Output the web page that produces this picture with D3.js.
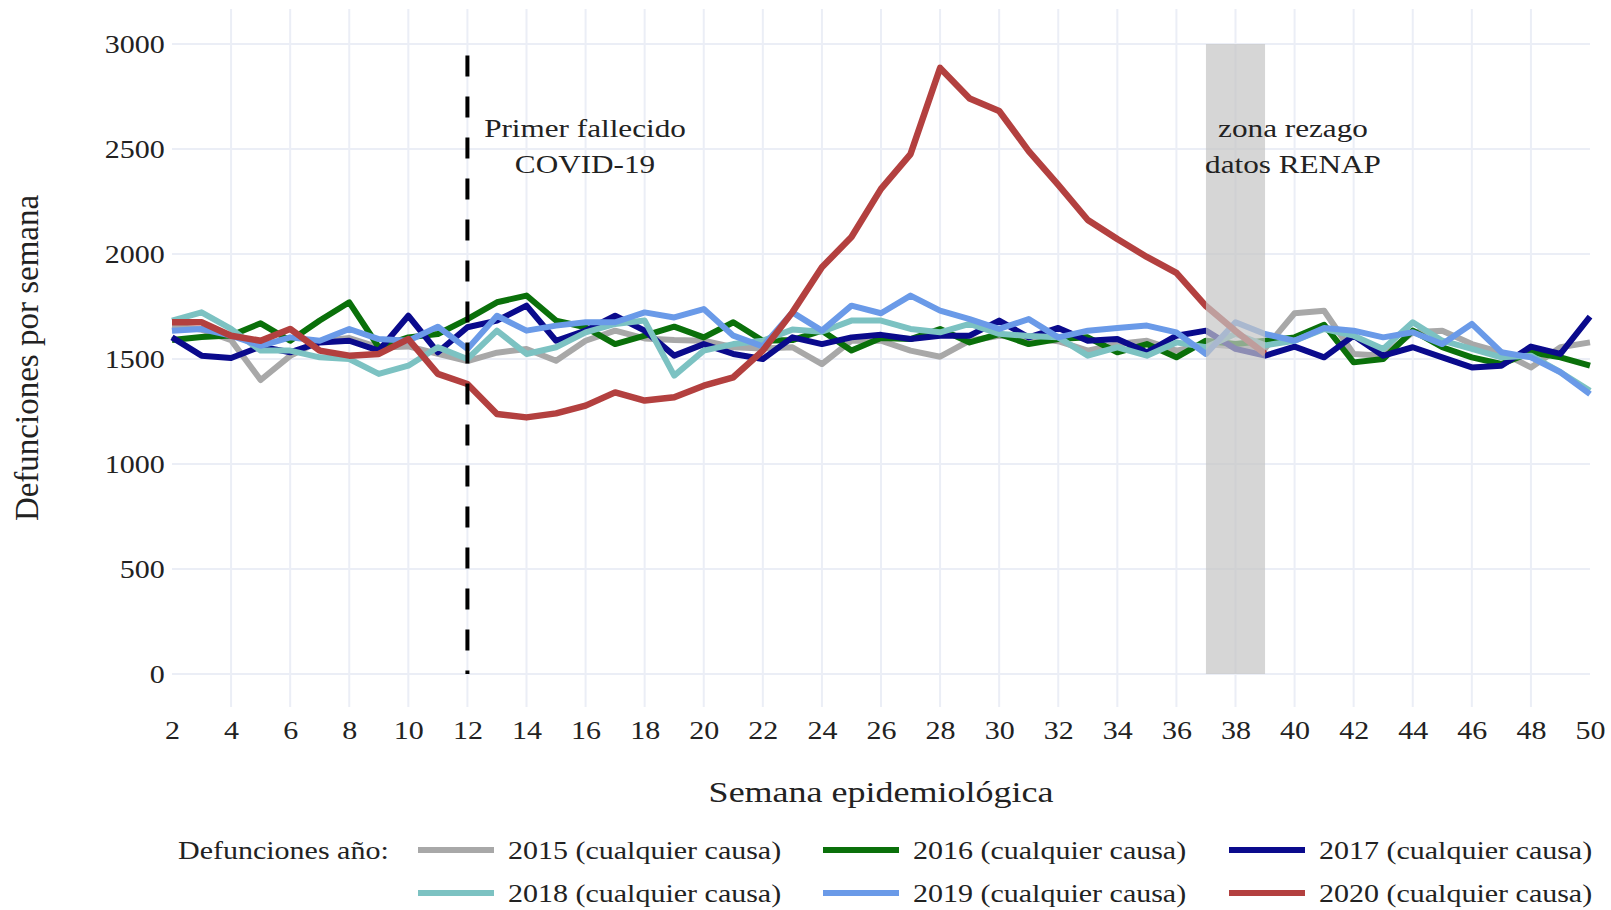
<!DOCTYPE html>
<html>
<head>
<meta charset="utf-8">
<script src="https://cdn.jsdelivr.net/npm/d3@7"></script>
<style>
  body { margin: 0; background: #fff; }
  text { font-family: "Liberation Serif", "Times New Roman", serif; fill: #222; }
</style>
</head>
<body>
<svg width="1611" height="910"></svg>
<script>
// semanas epidemiológicas
const weeks = [2,3,4,5,6,7,8,9,10,11,12,13,14,15,16,17,18,19,20,21,22,23,24,25,26,
  27,28,29,30,31,32,33,34,35,36,37,38,39,40,41,42,43,44,45,46,47,48,49,50];
const xTicks = [2,4,6,8,10,12,14,16,18,20,22,24,26,28,30,32,34,36,38,40,42,44,46,48,50];
const yTicks = [0,500,1000,1500,2000,2500,3000];

const d2015 = [1655,1640,1590,1400,1515,1585,1600,1555,1560,1525,1490,1530,1548,1492,1587,1635,1598,1590,1587,1556,1550,1556,1476,1587,1587,
  1540,1511,1587,1611,1600,1585,1540,1571,1587,1540,1571,1560,1550,1718,1730,1524,1516,1627,1635,1571,1532,1460,1556,1579];
const d2016 = [1590,1605,1612,1670,1587,1683,1770,1556,1603,1619,1690,1770,1802,1683,1651,1571,1611,1654,1603,1675,1587,1590,1635,1540,1600,
  1595,1643,1579,1619,1571,1595,1603,1532,1571,1508,1587,1571,1587,1603,1663,1484,1500,1635,1556,1508,1476,1532,1508,1468];
const d2017 = [1603,1516,1505,1559,1532,1579,1587,1540,1706,1532,1651,1683,1754,1587,1635,1706,1635,1516,1571,1524,1500,1603,1571,1603,1615,
  1595,1611,1611,1683,1603,1648,1587,1595,1532,1611,1635,1548,1516,1559,1508,1611,1516,1556,1508,1460,1468,1559,1524,1702];
const d2018 = [1683,1722,1643,1540,1540,1508,1500,1429,1468,1556,1500,1635,1524,1556,1627,1667,1683,1421,1540,1571,1587,1640,1630,1683,1683,
  1643,1627,1667,1620,1610,1603,1516,1556,1516,1579,1556,1620,1565,1587,1643,1611,1548,1675,1587,1548,1508,1516,1437,1349];
const d2019 = [1635,1643,1611,1563,1603,1587,1643,1595,1587,1654,1548,1706,1635,1659,1675,1675,1722,1698,1738,1611,1560,1722,1635,1754,1718,
  1802,1730,1690,1643,1690,1603,1635,1648,1659,1627,1524,1675,1619,1587,1648,1635,1603,1627,1571,1667,1532,1508,1437,1333];
const d2020 = [1675,1675,1611,1587,1643,1540,1516,1524,1595,1429,1381,1238,1222,1241,1278,1341,1302,1318,1373,1413,1540,1722,1937,2081,2310,
  2476,2886,2740,2681,2490,2329,2162,2071,1986,1910,1752,1633,1525];

const seriesNames = ["2015 (cualquier causa)","2016 (cualquier causa)","2017 (cualquier causa)",
  "2018 (cualquier causa)","2019 (cualquier causa)","2020 (cualquier causa)"];
const seriesValues = [d2015, d2016, d2017, d2018, d2019, d2020];
const seriesColors = ["#a8a8a8","#0a700a","#0a0a8c","#7cc2c2","#6a9ae8","#b3403f"];

const firstDeathWeek = 12;
const lagZone = [37, 39];

const svg = d3.select("svg");
const stretch = 1.2;

const x = d3.scaleLinear().domain([2, 50]).range([172, 1590]);
const y = d3.scaleLinear().domain([0, 3000]).range([674, 44]);
const plotTop = 9, plotBottom = 707;

// grid
const grid = svg.append("g");
grid.selectAll(".vg")
  .data(xTicks.filter(d => d > 2 && d < 50))
  .join("line")
    .attr("x1", d => x(d)).attr("x2", d => x(d))
    .attr("y1", plotTop).attr("y2", plotBottom)
    .attr("stroke", "#ebeef6").attr("stroke-width", 2);
grid.selectAll(".hg")
  .data(yTicks)
  .join("line")
    .attr("x1", x(2)).attr("x2", x(50))
    .attr("y1", d => y(d)).attr("y2", d => y(d))
    .attr("stroke", "#ebeef6").attr("stroke-width", 2);

// lines
const line = d3.line()
  .x((d, i) => x(weeks[i]))
  .y(d => y(d));

svg.append("g")
  .selectAll("path")
  .data(seriesValues)
  .join("path")
    .attr("d", d => line(d))
    .attr("fill", "none")
    .attr("stroke", (d, i) => seriesColors[i])
    .attr("stroke-width", (d, i) => i === 5 ? 6.5 : 6)
    .attr("stroke-linejoin", "round");

// zona rezago
svg.append("rect")
  .attr("x", x(lagZone[0]))
  .attr("width", x(lagZone[1]) - x(lagZone[0]))
  .attr("y", y(3000))
  .attr("height", y(0) - y(3000))
  .attr("fill", "#c4c4c4")
  .attr("opacity", 0.7);

// primer fallecido
svg.append("line")
  .attr("x1", x(firstDeathWeek)).attr("x2", x(firstDeathWeek))
  .attr("y1", y(2945)).attr("y2", y(0))
  .attr("stroke", "#000")
  .attr("stroke-width", 4)
  .attr("stroke-dasharray", "21,20");

function addText(str, px, py, size, anchor) {
  return svg.append("text")
    .attr("transform", `translate(${px},${py}) scale(${stretch},1)`)
    .attr("text-anchor", anchor || "middle")
    .style("font-size", size + "px")
    .text(str);
}

addText("Primer fallecido", 585, 137, 26);
addText("COVID-19", 585, 173, 26);
addText("zona rezago", 1293, 137, 26);
addText("datos RENAP", 1293, 173, 26);

// axes
const xAxis = svg.append("g")
  .attr("transform", `translate(0,${plotBottom})`)
  .call(d3.axisBottom(x).tickValues(xTicks).tickSize(0).tickPadding(14).tickFormat(d3.format("d")));
xAxis.select(".domain").remove();
xAxis.selectAll("text")
  .attr("transform", `scale(${stretch},1)`)
  .style("font-size", "25px")
  .attr("fill", "#222");

const yAxis = svg.append("g")
  .attr("transform", `translate(${x(2)},0)`)
  .call(d3.axisLeft(y).tickValues(yTicks).tickSize(0).tickPadding(6).tickFormat(d3.format("d")));
yAxis.select(".domain").remove();
yAxis.selectAll("text")
  .attr("transform", `scale(${stretch},1)`)
  .style("font-size", "25px")
  .attr("fill", "#222");

addText("Semana epidemiológica", 881, 802, 30);

svg.append("text")
  .attr("transform", "translate(38,358) rotate(-90)")
  .attr("text-anchor", "middle")
  .style("font-size", "33px")
  .text("Defunciones por semana");

// legend
addText("Defunciones año:", 178, 859, 25, "start");
const legendCols = [418, 823, 1229];
const legendRows = [850, 893];
const legend = svg.append("g")
  .selectAll("g")
  .data(seriesNames)
  .join("g")
    .attr("transform", (d, i) => `translate(${legendCols[i % 3]},${legendRows[Math.floor(i / 3)]})`);
legend.append("line")
  .attr("x1", 0).attr("x2", 76)
  .attr("stroke", (d, i) => seriesColors[i])
  .attr("stroke-width", 6);
legend.append("text")
  .attr("transform", `translate(90,9) scale(${stretch},1)`)
  .style("font-size", "25px")
  .text(d => d);
</script>
</body>
</html>
